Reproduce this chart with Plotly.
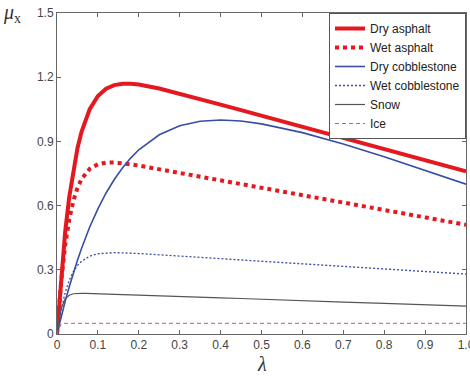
import plotly.graph_objects as go

lam = [0, 0.01, 0.02, 0.03, 0.04, 0.05, 0.06, 0.07, 0.08, 0.1, 0.12, 0.14, 0.16, 0.18,
       0.2, 0.25, 0.3, 0.35, 0.4, 0.45, 0.5, 0.6, 0.7, 0.8, 0.9, 1.0]

dry_asphalt = [0, 0.268, 0.478, 0.641, 0.769, 0.868, 0.945, 1.005, 1.051, 1.112, 1.146, 1.163, 1.169, 1.169,
               1.166, 1.147, 1.123, 1.098, 1.072, 1.046, 1.020, 0.968, 0.916, 0.864, 0.812, 0.760]
wet_asphalt = [0, 0.243, 0.414, 0.536, 0.622, 0.682, 0.724, 0.752, 0.772, 0.793, 0.801, 0.801, 0.798, 0.793,
               0.787, 0.770, 0.753, 0.736, 0.718, 0.701, 0.684, 0.649, 0.614, 0.579, 0.545, 0.510]
dry_cobblestone = [0, 0.079, 0.153, 0.221, 0.285, 0.345, 0.400, 0.452, 0.500, 0.585, 0.659, 0.722, 0.776, 0.822,
                   0.861, 0.931, 0.973, 0.994, 1.000, 0.995, 0.982, 0.941, 0.888, 0.828, 0.765, 0.700]
wet_cobblestone = [0, 0.113, 0.194, 0.251, 0.292, 0.320, 0.340, 0.354, 0.364, 0.375, 0.379, 0.380, 0.379, 0.378,
                   0.376, 0.370, 0.364, 0.358, 0.352, 0.346, 0.340, 0.328, 0.316, 0.304, 0.292, 0.280]
snow = [0, 0.118, 0.164, 0.181, 0.188, 0.190, 0.190, 0.190, 0.189, 0.188, 0.187, 0.186, 0.184, 0.183,
        0.182, 0.178, 0.175, 0.172, 0.169, 0.166, 0.162, 0.156, 0.149, 0.143, 0.136, 0.130]
ice = [0, 0.048, 0.050, 0.050, 0.050, 0.050, 0.050, 0.050, 0.050, 0.050, 0.050, 0.050, 0.050, 0.050,
       0.050, 0.050, 0.050, 0.050, 0.050, 0.050, 0.050, 0.050, 0.050, 0.050, 0.050, 0.050]

x_ticks = [0, 0.1, 0.2, 0.3, 0.4, 0.5, 0.6, 0.7, 0.8, 0.9, 1.0]
x_tick_labels = ["0", "0.1", "0.2", "0.3", "0.4", "0.5", "0.6", "0.7", "0.8", "0.9", "1.0"]
y_ticks = [0, 0.3, 0.6, 0.9, 1.2, 1.5]
y_tick_labels = ["0", "0.3", "0.6", "0.9", "1.2", "1.5"]

series = [
    ("Dry asphalt", dry_asphalt, "#e3191f", 4, "solid"),
    ("Wet asphalt", wet_asphalt, "#e3191f", 4, "dot"),
    ("Dry cobblestone", dry_cobblestone, "#3a4da6", 1.6, "solid"),
    ("Wet cobblestone", wet_cobblestone, "#3a4da6", 1.3, "2px,2px"),
    ("Snow", snow, "#555555", 1.2, "solid"),
    ("Ice", ice, "#c4568e", 1, "4px,3px"),
]

fig = go.Figure()
for name, vals, color, width, dash in series:
    fig.add_trace(go.Scatter(x=lam, y=vals, mode="lines", name=name,
                             line=dict(color=color, width=width, dash=dash)))

axis_common = dict(showgrid=False, zeroline=False, showline=True, linecolor="#666666", linewidth=1,
                   mirror="allticks", ticks="inside", ticklen=4, tickcolor="#666666", automargin=False,
                   ticklabeloverflow="allow",
                   tickfont=dict(family="Liberation Sans", size=12, color="#444444"))

fig.update_xaxes(range=[0, 1.0], tickvals=x_ticks, ticktext=x_tick_labels, **axis_common)
fig.update_yaxes(range=[0, 1.5], tickvals=y_ticks, ticktext=y_tick_labels, **axis_common)

fig.add_annotation(text="<i>μ</i><sub>x</sub>", xref="paper", yref="paper", x=-0.11, y=1.0,
                   xanchor="center", yanchor="middle", showarrow=False,
                   font=dict(family="Liberation Serif", size=20, color="#333333"))
fig.add_annotation(text="<i>λ</i>", xref="paper", yref="paper", x=0.5, y=-0.093,
                   xanchor="center", yanchor="middle", showarrow=False,
                   font=dict(family="Liberation Serif", size=20, color="#333333"))

fig.update_layout(
    width=470, height=376,
    margin=dict(l=57, r=4, t=13, b=42, autoexpand=False),
    paper_bgcolor="white", plot_bgcolor="white",
    showlegend=True,
    legend=dict(x=1, y=1, xanchor="right", yanchor="top", bgcolor="white",
                bordercolor="#555555", borderwidth=1,
                font=dict(family="Liberation Sans", size=12, color="#222222"),
                tracegroupgap=0, itemwidth=30),
)

fig.write_html("out.html", config={"displayModeBar": False},
               post_script="document.body.style.margin='0';")
